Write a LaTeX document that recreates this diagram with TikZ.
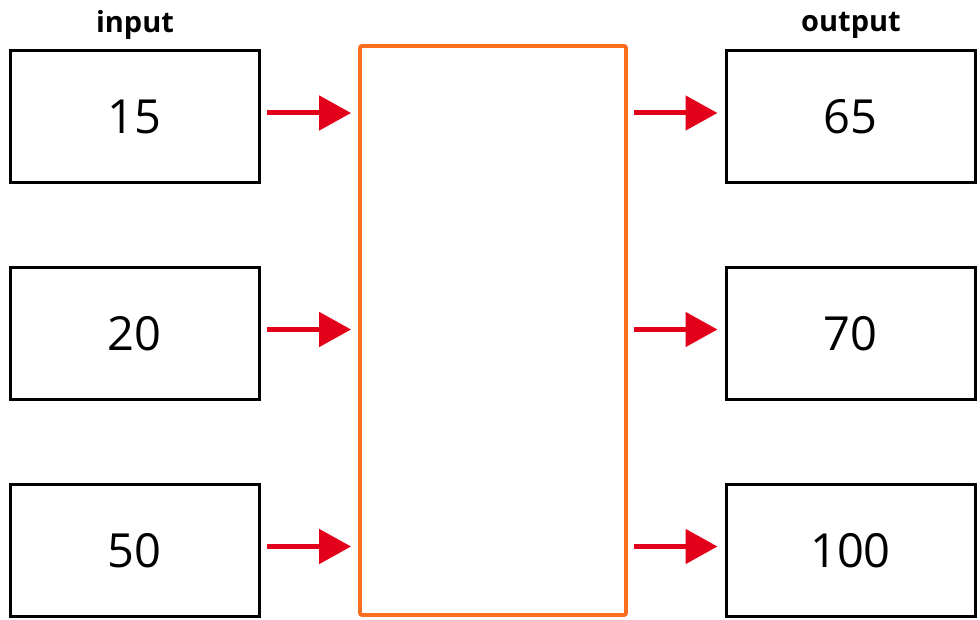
\documentclass[tikz,border=0pt]{standalone}
\usepackage{fontspec}
\setmainfont{Open Sans}
\usetikzlibrary{arrows.meta}
\definecolor{boxorange}{RGB}{250,110,30}
\definecolor{arrred}{RGB}{226,0,26}
\begin{document}
\begin{tikzpicture}[x=1pt,y=-1pt,
  numbox/.style={draw=black,line width=3pt,minimum width=249pt,minimum height=132pt,inner sep=0pt,font=\fontsize{47}{50}\selectfont},
  midbox/.style={draw=boxorange,line width=3.8pt,rounded corners=2pt,minimum width=266pt,minimum height=569pt,inner sep=0pt},
  headlbl/.style={font=\bfseries\fontsize{29}{30}\selectfont,inner sep=0pt},
  flow/.style={draw=arrred,line width=5pt,-{Triangle[length=32pt,width=34pt]},shorten <=6pt,shorten >=7pt}]
\useasboundingbox (0,0) rectangle (980,620);
\node[numbox] (in1) at (134.5,117) {15};
\node[numbox] (in2) at (134.5,333.5) {20};
\node[numbox] (in3) at (134.5,550.5) {50};
\node[midbox] (mid) at (493,330.5) {};
\node[numbox] (out1) at (850.5,117) {65};
\node[numbox] (out2) at (850.5,333.5) {70};
\node[numbox] (out3) at (850.5,550.5) {100};
\node[headlbl] (inlbl) at (135,25) {input};
\node[headlbl] (outlbl) at (851,25) {output};
\foreach \i in {1,2,3}{
  \draw[flow] ([yshift=4pt]in\i.east) -- ([yshift=4pt]mid.west |- in\i.east);
  \draw[flow] ([yshift=4pt]mid.east |- out\i.west) -- ([yshift=4pt]out\i.west);
}
\end{tikzpicture}
\end{document}
